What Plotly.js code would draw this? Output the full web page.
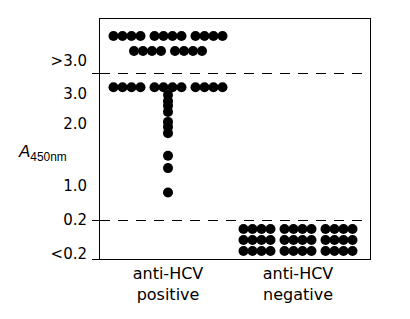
<!DOCTYPE html>
<html>
<head>
<meta charset="utf-8">
<script src="https://cdn.plot.ly/plotly-3.0.1.min.js"></script>
<style>html,body{margin:0;padding:0;background:#fff;}#chart{width:410px;height:319px;}</style>
</head>
<body>
<div id="chart"></div>
<script>
// ---------------- data ----------------
const categories = ['anti-HCV<br>positive', 'anti-HCV<br>negative'];
const yTickLabels = ['<0.2', '0.2', '1.0', '2.0', '3.0', '>3.0'];
// anti-HCV positive sera
const posOverRows = [12, 8];          // samples per row in the ">3.0" band
const posAt3Count = 12;               // samples reading 3.0
const posAt3Value = 3.0;
const posColumn = [2.75, 2.57, 2.44, 2.28, 2.04, 1.93, 1.80, 1.40, 1.22, 0.93];
// anti-HCV negative sera
const negUnderRows = [12, 12, 12];    // samples per row in the "<0.2" band

// ---------------- layout helpers ----------------
// axis is drawn in display units; the 1.0-3.0 section is a log scale
const Y_ONE = 73, DECADE = 207;
const pos = v => Y_ONE + DECADE * Math.log10(v);
const catX = [68, 198];
const DOT = 9, GROUP = 4, GROUP_GAP = 41;

function rowXs(center, n) {
  const groups = Math.ceil(n / GROUP);
  const xs = [];
  for (let g = 0; g < groups; g++) {
    const gc = center + (g - (groups - 1) / 2) * GROUP_GAP;
    for (let i = 0; i < GROUP && xs.length < n; i++) {
      xs.push(gc + (i - (GROUP - 1) / 2) * DOT);
    }
  }
  return xs;
}

const X = [], Y = [];
function addRow(center, n, y) {
  rowXs(center, n).forEach(x => { X.push(x); Y.push(y); });
}
// >3.0 band
const overY = [223, 208];
posOverRows.forEach((n, i) => addRow(catX[0], n, overY[i]));
// at 3.0
addRow(catX[0], posAt3Count, pos(posAt3Value));
posColumn.forEach(v => { X.push(catX[0]); Y.push(pos(v)); });
// <0.2 band
const underY = [30, 19, 8];
negUnderRows.forEach((n, i) => addRow(catX[1], n, underY[i]));

const tickPos = [5, 39, pos(1.0), pos(2.0), 165, 198];
const fontY = {family: 'DejaVu Sans, Verdana, sans-serif', size: 15, color: '#000'};
const fontX = {family: 'DejaVu Sans, Verdana, sans-serif', size: 16, color: '#000'};

const traces = [{
  type: 'scatter', mode: 'markers', x: X, y: Y,
  marker: {color: '#000', size: 10, line: {width: 0}},
  hoverinfo: 'skip', showlegend: false
}, {
  type: 'scatter', mode: 'markers', x: [0], y: [0], yaxis: 'y2',
  marker: {opacity: 0}, hoverinfo: 'skip', showlegend: false
}];

const layout = {
  width: 410, height: 319,
  margin: {l: 100, r: 40, t: 19, b: 60},
  paper_bgcolor: '#fff', plot_bgcolor: '#fff',
  showlegend: false,
  xaxis: {
    range: [0, 270], tickvals: catX, ticktext: categories,
    showline: true, mirror: true, linecolor: '#000', linewidth: 1,
    showgrid: false, zeroline: false, ticks: '', tickfont: fontX,
    fixedrange: true
  },
  yaxis: {
    range: [0, 240], tickvals: tickPos, ticktext: yTickLabels,
    showline: true, mirror: true, linecolor: '#000', linewidth: 1,
    showgrid: false, zeroline: false, ticks: '', tickfont: fontY,
    ticklabelstandoff: 9, fixedrange: true
  },
  yaxis2: {
    range: [0, 240], overlaying: 'y', side: 'left',
    tickvals: [0, 39, 186], ticks: 'outside', ticklen: 7, tickcolor: '#000',
    showticklabels: false, showline: false, showgrid: false, zeroline: false,
    fixedrange: true
  },
  shapes: [185.5, 38.5].map(y => ({
    type: 'line', xref: 'paper', x0: 0, x1: 1, yref: 'y', y0: y, y1: y,
    line: {color: '#000', width: 1, dash: '10px,8px'}
  })),
  annotations: [{
    xref: 'paper', yref: 'paper', x: -0.31, y: 0.44, xanchor: 'left', yanchor: 'middle',
    showarrow: false, text: '<i>A</i><sub>450nm</sub>',
    font: {family: 'Liberation Sans, Arial, sans-serif', size: 17, color: '#000'}
  }]
};

Plotly.newPlot('chart', traces, layout, {staticPlot: true, displayModeBar: false});
</script>
</body>
</html>
